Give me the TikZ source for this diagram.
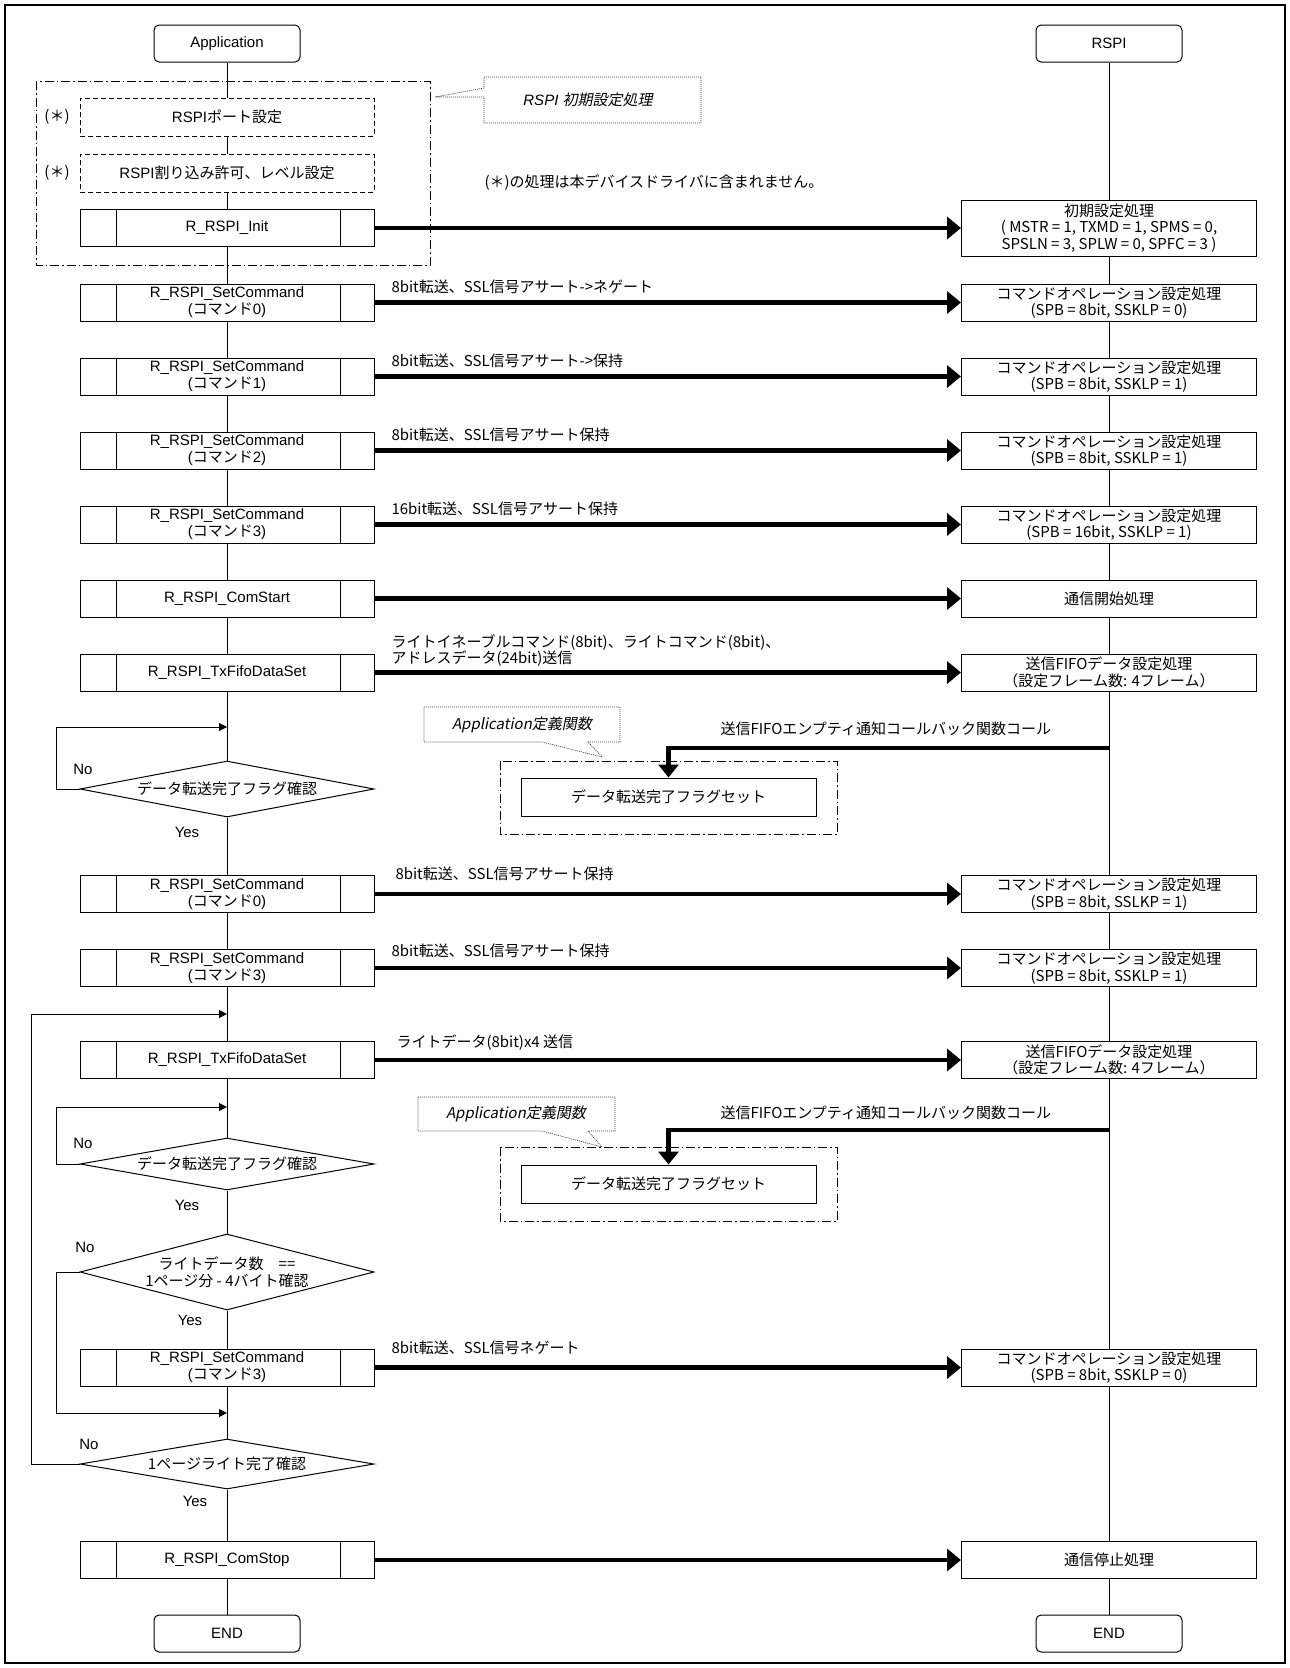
\documentclass[tikz,border=0pt]{standalone}
\usepackage{fontspec}
\setmainfont{Liberation Sans}
\newfontfamily\jp{Noto Sans CJK JP}
\newfontfamily\jpit[FakeSlant=0.2]{Noto Sans CJK JP}
\usepackage{tikz}
\usetikzlibrary{arrows.meta, shapes.geometric, positioning}

\begin{document}
\begin{tikzpicture}[x=1pt, y=-1pt, line width=1pt,
    font=\fontsize{15}{17}\selectfont,
    head/.style={draw, rounded corners=5pt, minimum width=146pt, minimum height=37pt, inner sep=0pt},
    subproc/.style={draw, fill=white, minimum width=294pt, minimum height=37pt, inner sep=0pt, align=center,
        path picture={
            \draw ([xshift=36pt]path picture bounding box.north west) -- ([xshift=36pt]path picture bounding box.south west);
            \draw ([xshift=-34pt]path picture bounding box.north east) -- ([xshift=-34pt]path picture bounding box.south east);
        }},
    portbox/.style={draw, dash pattern=on 5pt off 3pt, minimum width=294pt, minimum height=38pt, inner sep=0pt},
    drvbox/.style={draw, fill=white, minimum width=295pt, minimum height=37pt, inner sep=0pt, align=center, font=\jp\fontsize{15}{16.5}\selectfont},
    flagbox/.style={draw, minimum width=295pt, minimum height=38pt, inner sep=0pt, font=\jp\fontsize{15}{17}\selectfont},
    check/.style={draw, fill=white, diamond, inner sep=0pt, minimum width=294pt, align=center, font=\jp\fontsize{15}{17}\selectfont},
    jptext/.style={inner sep=0pt, font=\jp\fontsize{15}{16}\selectfont},
    msglabel/.style={jptext, anchor=west, align=left},
    msg/.style={line width=4.5pt, -{Triangle[length=14pt, width=22pt]}},
    callback/.style={line width=4.5pt, -{Triangle[length=13pt, width=20pt]}},
    backarrow/.style={-{Triangle[length=8pt, width=8pt]}},
    dashdot/.style={dash pattern=on 9pt off 3pt on 1.5pt off 3pt},
    balloon/.style={draw=black!75, line width=0.7pt, dash pattern=on 1pt off 1pt},
]

    % =================================================================
    % 0. PAGE AND FRAME
    % =================================================================
    \useasboundingbox (0,0) rectangle (1290,1668);
    \fill[white] (0,0) rectangle (1290,1668);
    \draw[line width=1.2pt] (5,5) rectangle (1285,1663);

    % =================================================================
    % 1. HEADS
    % =================================================================
    \node[head] (app) at (227,43.5) {Application};
    \node[head] (rspi) at (1109,43.5) {RSPI};

    % =================================================================
    % 2. INITIAL SETTINGS
    % =================================================================
    \draw[dashdot] (36,81) rectangle (430,265);
    \node[portbox] (port) at (227,117) {RSPI{\jp ポート設定}};
    \node[portbox] (intr) at (227,173) {RSPI{\jp 割り込み許可、レベル設定}};
    \node[jptext] (mark1) at (57,117) {(＊)};
    \node[jptext] (mark2) at (57,173) {(＊)};
    \node[subproc] (init) at (227,228) {R\_RSPI\_Init};
    \node[drvbox, minimum height=56pt] (initr) at (1109,228) {初期設定処理\\( MSTR = 1, TXMD = 1, SPMS = 0,\\SPSLN = 3, SPLW = 0, SPFC = 3 )};

    % balloon for the group
    \draw[balloon] (701,77) -- (484,77) -- (484,88) -- (435,97) -- (484,97) -- (484,123) -- (701,123) -- cycle;
    \node[inner sep=0pt] (cap1) at (588,100) {\itshape RSPI {\jpit 初期設定処理}};
    \node[jptext, anchor=west] (remark) at (484,183) {(＊)の処理は本デバイスドライバに含まれません。};

    % =================================================================
    % 3. COMMANDS AND START
    % =================================================================
    \node[subproc] (cmd0) at (227,302.5) {R\_RSPI\_SetCommand\\({\jp コマンド}0)};
    \node[drvbox] (cmd0r) at (1109,302.5) {コマンドオペレーション設定処理\\(SPB = 8bit, SSKLP = 0)};
    \node[msglabel] (lab0) at (391,286.5) {8bit転送、SSL信号アサート->ネゲート};

    \node[subproc] (cmd1) at (227,376.5) {R\_RSPI\_SetCommand\\({\jp コマンド}1)};
    \node[drvbox] (cmd1r) at (1109,376.5) {コマンドオペレーション設定処理\\(SPB = 8bit, SSKLP = 1)};
    \node[msglabel] (lab1) at (391,360.5) {8bit転送、SSL信号アサート->保持};

    \node[subproc] (cmd2) at (227,450.5) {R\_RSPI\_SetCommand\\({\jp コマンド}2)};
    \node[drvbox] (cmd2r) at (1109,450.5) {コマンドオペレーション設定処理\\(SPB = 8bit, SSKLP = 1)};
    \node[msglabel] (lab2) at (391,434.5) {8bit転送、SSL信号アサート保持};

    \node[subproc] (cmd3) at (227,524.5) {R\_RSPI\_SetCommand\\({\jp コマンド}3)};
    \node[drvbox] (cmd3r) at (1109,524.5) {コマンドオペレーション設定処理\\(SPB = 16bit, SSKLP = 1)};
    \node[msglabel] (lab3) at (391,508.5) {16bit転送、SSL信号アサート保持};

    \node[subproc] (start) at (227,598.5) {R\_RSPI\_ComStart};
    \node[drvbox] (startr) at (1109,598.5) {通信開始処理};

    \node[subproc] (tx1) at (227,672.5) {R\_RSPI\_TxFifoDataSet};
    \node[drvbox] (tx1r) at (1109,672.5) {送信FIFOデータ設定処理\\（設定フレーム数: 4フレーム）};
    \node[msglabel] (lab4) at (391,650.5) {ライトイネーブルコマンド(8bit)、ライトコマンド(8bit)、\\アドレスデータ(24bit)送信};

    % =================================================================
    % 4. FIRST WAIT LOOP
    % =================================================================
    \coordinate (back1) at (227,727);
    \node[check, shape aspect=5.3, minimum height=56pt] (d1) at (227,789) {データ転送完了フラグ確認};
    \node (no1) at (83,769) {No};
    \node (yes1) at (187,832) {Yes};

    \draw[balloon] (424,707) -- (620,707) -- (620,742) -- (588,742) -- (602,757) -- (542,742) -- (424,742) -- cycle;
    \node[inner sep=0pt, font=\jpit\fontsize{15}{17}\selectfont] (cap2) at (522,724.5) {Application定義関数};
    \draw[dashdot] (500,761) rectangle (837,834);
    \node[flagbox] (flag1) at (668.5,797) {データ転送完了フラグセット};
    \coordinate (cb1) at (1109,748);
    \node[msglabel] (lab5) at (720,729) {送信FIFOエンプティ通知コールバック関数コール};

    % =================================================================
    % 5. WRITE LOOP
    % =================================================================
    \node[subproc] (cmd0b) at (227,894) {R\_RSPI\_SetCommand\\({\jp コマンド}0)};
    \node[drvbox] (cmd0br) at (1109,894) {コマンドオペレーション設定処理\\(SPB = 8bit, SSLKP = 1)};
    \node[msglabel] (lab6) at (395,873.5) {8bit転送、SSL信号アサート保持};

    \node[subproc] (cmd3b) at (227,968) {R\_RSPI\_SetCommand\\({\jp コマンド}3)};
    \node[drvbox] (cmd3br) at (1109,968) {コマンドオペレーション設定処理\\(SPB = 8bit, SSKLP = 1)};
    \node[msglabel] (lab7) at (391,951) {8bit転送、SSL信号アサート保持};

    \coordinate (back0) at (227,1014);
    \node[subproc] (tx2) at (227,1060) {R\_RSPI\_TxFifoDataSet};
    \node[drvbox] (tx2r) at (1109,1060) {送信FIFOデータ設定処理\\（設定フレーム数: 4フレーム）};
    \node[msglabel] (lab8) at (396,1043) {ライトデータ(8bit)x4 送信};

    \coordinate (back2) at (227,1107);
    \node[check, shape aspect=5.5, minimum height=52pt] (d2) at (227,1164) {データ転送完了フラグ確認};
    \node (no2) at (83,1143) {No};
    \node (yes2) at (187,1205) {Yes};

    \draw[balloon] (418,1097) -- (615,1097) -- (615,1131) -- (588,1131) -- (602,1147) -- (542,1131) -- (418,1131) -- cycle;
    \node[inner sep=0pt, font=\jpit\fontsize{15}{17}\selectfont] (cap3) at (516,1114) {Application定義関数};
    \draw[dashdot] (500,1147) rectangle (837,1221);
    \node[flagbox] (flag2) at (668.5,1184) {データ転送完了フラグセット};
    \coordinate (cb2) at (1109,1130);
    \node[msglabel] (lab9) at (720,1113) {送信FIFOエンプティ通知コールバック関数コール};

    \node[check, shape aspect=3.8, minimum height=76pt] (d3) at (227,1272) {ライトデータ数　==\\1ページ分 - 4バイト確認};
    \node (no3) at (85,1247) {No};
    \node (yes3) at (190,1320) {Yes};

    \node[subproc] (cmd3c) at (227,1367.5) {R\_RSPI\_SetCommand\\({\jp コマンド}3)};
    \node[drvbox] (cmd3cr) at (1109,1367.5) {コマンドオペレーション設定処理\\(SPB = 8bit, SSKLP = 0)};
    \node[msglabel] (lab10) at (391,1348) {8bit転送、SSL信号ネゲート};

    \coordinate (back3) at (227,1413);
    \node[check, shape aspect=6.5, minimum height=50pt] (d4) at (227,1464) {1ページライト完了確認};
    \node (no4) at (89,1444) {No};
    \node (yes4) at (195,1501) {Yes};

    % =================================================================
    % 6. STOP AND END
    % =================================================================
    \node[subproc] (stop) at (227,1560) {R\_RSPI\_ComStop};
    \node[drvbox] (stopr) at (1109,1560) {通信停止処理};
    \node[head] (endl) at (227,1633.5) {END};
    \node[head] (endr) at (1109,1633.5) {END};

    % =================================================================
    % 7. LIFELINES, MESSAGES, LOOPS
    % =================================================================
    \begin{scope}[on background layer/.try]
    \foreach \a/\b in {app/port, port/intr, intr/init, init/cmd0, cmd0/cmd1, cmd1/cmd2, cmd2/cmd3,
        cmd3/start, start/tx1, tx1/d1, d1/cmd0b, cmd0b/cmd3b, cmd3b/tx2, tx2/d2, d2/d3, d3/cmd3c,
        cmd3c/d4, d4/stop, stop/endl}
        \draw (\a.south) -- (\b.north);
    \foreach \a/\b in {rspi/initr, initr/cmd0r, cmd0r/cmd1r, cmd1r/cmd2r, cmd2r/cmd3r, cmd3r/startr,
        startr/tx1r, tx1r/cmd0br, cmd0br/cmd3br, cmd3br/tx2r, tx2r/cmd3cr, cmd3cr/stopr, stopr/endr}
        \draw (\a.south) -- (\b.north);
    \end{scope}

    \foreach \a in {init, cmd0, cmd1, cmd2, cmd3, start, tx1, cmd0b, cmd3b, tx2, cmd3c, stop}
        \draw[msg] (\a.east) -- (\a r.west);

    \draw[callback] (cb1) -| (flag1.north);
    \draw[callback] (cb2) -| (flag2.north);

    \draw[backarrow] (d1.west) -- (56,789) |- (back1);
    \draw[backarrow] (d2.west) -- (56,1164) |- (back2);
    \draw[backarrow] (d3.west) -- (56,1272) |- (back3);
    \draw[backarrow] (d4.west) -- (31,1464) |- (back0);

\end{tikzpicture}
\end{document}
